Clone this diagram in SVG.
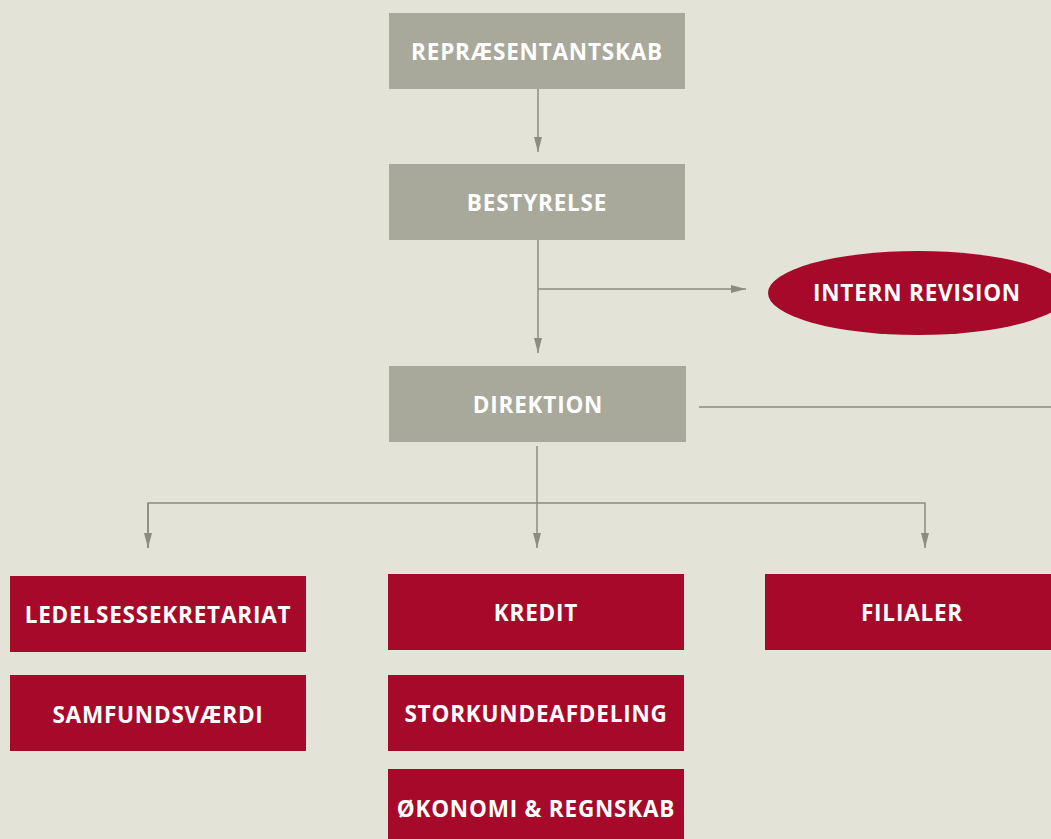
<svg xmlns="http://www.w3.org/2000/svg" width="1051" height="839" viewBox="0 0 1051 839">
<style>
.bg{fill:#E3E3D8}
.g{fill:#A8A89B}
.r{fill:#A6092A}
.t{font-family:"Open Sans","Liberation Sans",sans-serif;font-weight:700;font-size:22.5px;letter-spacing:0.8px;fill:#FFFFFF;text-anchor:middle}
.c{stroke:#8C8C80;stroke-width:1.5;fill:none}
</style>
<defs>
<marker id="ah" markerWidth="16" markerHeight="8" refX="15" refY="4" orient="auto" markerUnits="userSpaceOnUse">
<path d="M0,0 L15,4 L0,8 Z" fill="#8C8C80"/>
</marker>
</defs>
<rect class="bg" x="0" y="0" width="1051" height="839"/>
<g id="connectors">
<line class="c" x1="538" y1="89" x2="538" y2="152" marker-end="url(#ah)"/>
<line class="c" x1="538" y1="240" x2="538" y2="353" marker-end="url(#ah)"/>
<line class="c" x1="538" y1="289" x2="746" y2="289" marker-end="url(#ah)"/>
<line class="c" x1="699" y1="407" x2="1051" y2="407"/>
<line class="c" x1="537" y1="446" x2="537" y2="548" marker-end="url(#ah)"/>
<polyline class="c" points="148,548 148,503 925,503 925,548" marker-end="url(#ah)"/>
<line class="c" x1="148" y1="503" x2="148" y2="548" marker-end="url(#ah)"/>
</g>
<g id="repraesentantskab"><rect class="g" x="389" y="13" width="296" height="76"/><text class="t" x="537" y="60">REPRÆSENTANTSKAB</text></g>
<g id="bestyrelse"><rect class="g" x="389" y="164" width="296" height="76"/><text class="t" x="537" y="211">BESTYRELSE</text></g>
<g id="intern-revision"><ellipse class="r" cx="918" cy="293" rx="150" ry="42"/><text class="t" x="917" y="301">INTERN REVISION</text></g>
<g id="direktion"><rect class="g" x="389" y="366" width="297" height="76"/><text class="t" x="538" y="413">DIREKTION</text></g>
<g id="ledelsessekretariat"><rect class="r" x="10" y="576" width="296" height="76"/><text class="t" x="158" y="623">LEDELSESSEKRETARIAT</text></g>
<g id="samfundsvaerdi"><rect class="r" x="10" y="675" width="296" height="76"/><text class="t" x="158" y="723">SAMFUNDSVÆRDI</text></g>
<g id="kredit"><rect class="r" x="388" y="574" width="296" height="76"/><text class="t" x="536" y="621">KREDIT</text></g>
<g id="storkundeafdeling"><rect class="r" x="388" y="675" width="296" height="76"/><text class="t" x="536" y="722">STORKUNDEAFDELING</text></g>
<g id="oekonomi"><rect class="r" x="388" y="769" width="296" height="76"/><text class="t" x="536" y="817">ØKONOMI &amp; REGNSKAB</text></g>
<g id="filialer"><rect class="r" x="765" y="574" width="296" height="76"/><text class="t" x="912" y="621">FILIALER</text></g>
</svg>
